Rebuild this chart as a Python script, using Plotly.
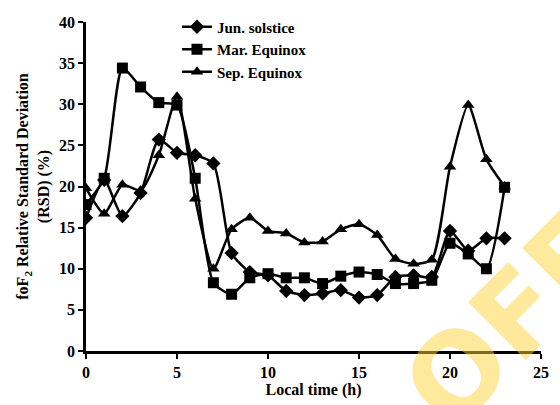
import plotly.graph_objects as go

# Local time (hours)
hours = list(range(24))

# foF2 relative standard deviation (%) per season
jun_solstice = [16.2, 20.8, 16.4, 19.2, 25.7, 24.1, 23.8, 22.8, 11.9, 9.6, 9.2, 7.3,
                6.8, 7.0, 7.4, 6.5, 6.8, 9.0, 9.2, 9.0, 14.6, 12.2, 13.7, 13.7]
mar_equinox = [17.8, 21.0, 34.4, 32.1, 30.2, 29.9, 21.0, 8.3, 6.9, 8.9, 9.4, 8.9,
               8.9, 8.2, 9.1, 9.6, 9.3, 8.2, 8.2, 8.6, 13.1, 11.8, 10.0, 19.9]
sep_equinox = [19.8, 16.7, 20.2, 19.5, 23.8, 30.9, 18.5, 10.0, 14.8, 16.2, 14.6, 14.3,
               13.2, 13.3, 14.8, 15.4, 14.1, 11.2, 10.6, 11.1, 22.4, 29.9, 23.3, 20.0]

x_ticks = [0, 5, 10, 15, 20, 25]
y_ticks = [0, 5, 10, 15, 20, 25, 30, 35, 40]

FONT = "Liberation Serif"

fig = go.Figure()
series = [
    ("Jun. solstice", jun_solstice, "diamond", 11),
    ("Mar. Equinox", mar_equinox, "square", 11),
    ("Sep. Equinox", sep_equinox, "triangle-up", 11),
]
for name, vals, sym, size in series:
    fig.add_trace(go.Scatter(
        x=hours, y=vals, name=name, mode="lines+markers",
        line=dict(color="black", width=2.5, shape="spline", smoothing=0.6),
        marker=dict(symbol=sym, size=size, color="black"),
    ))

axis_common = dict(
    showline=True, linecolor="black", linewidth=2.5,
    ticks="outside", ticklen=5, tickwidth=2, tickcolor="black",
    showgrid=False, zeroline=False,
    tickfont=dict(family=FONT, size=16, color="black", weight="bold"),
)

fig.update_layout(
    width=560, height=405,
    margin=dict(l=86, r=11, t=15, b=54),
    paper_bgcolor="white", plot_bgcolor="white",
    font=dict(family=FONT, color="black"),
    xaxis=dict(range=[0, 25], tickvals=x_ticks, **axis_common,
               title=dict(text="Local time (h)", standoff=2,
                          font=dict(family=FONT, size=16, color="black", weight="bold"))),
    yaxis=dict(range=[0, 40], tickvals=y_ticks, **axis_common,
               title=dict(text="foF<sub>2</sub> Relative Standard Deviation<br>(RSD) (%)",
                          standoff=6,
                          font=dict(family=FONT, size=16, color="black", weight="bold"))),
    legend=dict(x=0.2, y=1.035, xanchor="left", yanchor="top",
                bgcolor="rgba(0,0,0,0)", tracegroupgap=0,
                font=dict(family=FONT, size=15, color="black", weight="bold")),
    showlegend=True,
)

# Faint diagonal stamp in the lower right corner
fig.add_annotation(
    xref="paper", yref="paper", x=0.935, y=0.098,
    xanchor="center", yanchor="middle",
    text="OFF", showarrow=False, textangle=-45, opacity=0.5,
    font=dict(family="DejaVu Sans", size=112, color="rgb(255,212,60)", weight="bold"),
)

fig.write_html("out.html")
